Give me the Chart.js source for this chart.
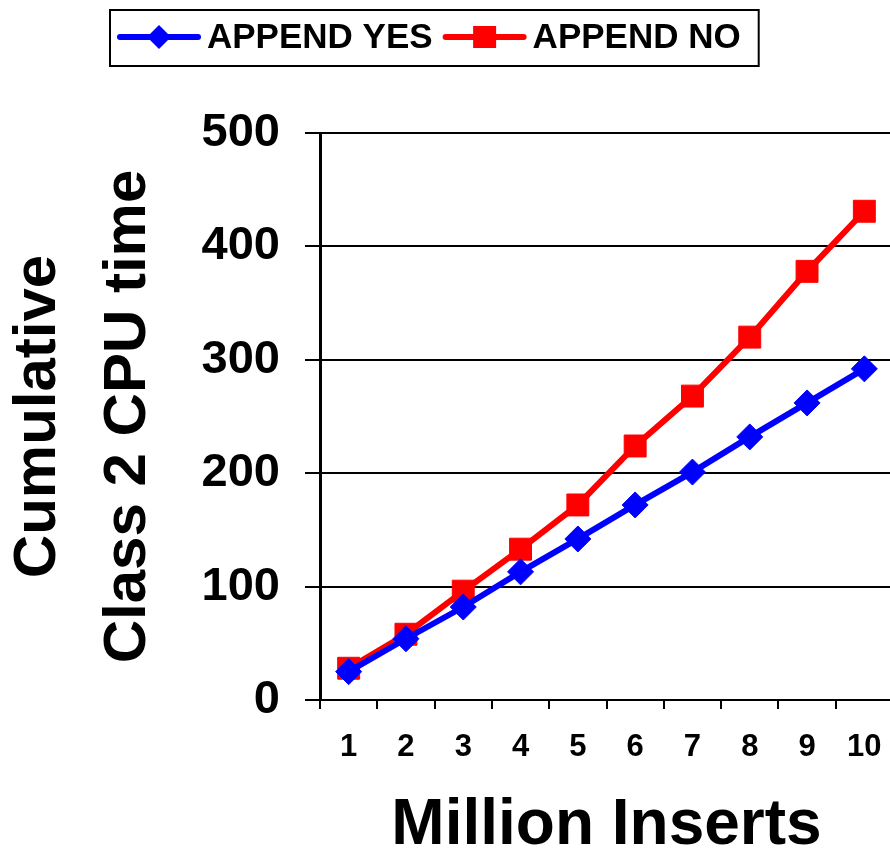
<!DOCTYPE html>
<html>
<head>
<meta charset="utf-8">
<script src="https://cdn.jsdelivr.net/npm/chart.js@4.4.0/dist/chart.umd.min.js"></script>
<style>
  html, body { margin: 0; padding: 0; background: #fff; overflow: hidden; width: 890px; height: 857px; }
  canvas { display: block; }
</style>
</head>
<body>
<canvas id="cpuChart" width="895" height="857"></canvas>
<script>
// million inserts (x categories)
const inserts = ['1', '2', '3', '4', '5', '6', '7', '8', '9', '10'];
// cumulative class 2 CPU time
const appendYes = [25, 54, 82, 113, 142, 172, 201, 232, 262, 292];
const appendNo = [28, 58, 96, 133, 172, 224, 268, 320, 378, 431];
const seriesNames = ['APPEND YES', 'APPEND NO'];

const FONT = '"Liberation Sans", Arial, sans-serif';

// legend in a box, line + marker sample like the original
const boxLegend = {
    id: 'boxLegend',
    afterDraw(chart) {
        const ctx = chart.ctx;
        const y = 37;
        let x = 120;
        ctx.save();
        ctx.font = 'bold 35px ' + FONT;
        ctx.textBaseline = 'middle';
        chart.data.datasets.forEach(ds => {
            ctx.strokeStyle = ds.borderColor;
            ctx.lineWidth = 6;
            ctx.lineCap = 'round';
            ctx.beginPath();
            ctx.moveTo(x, y);
            ctx.lineTo(x + 78, y);
            ctx.stroke();
            ctx.fillStyle = ds.borderColor;
            const cx = x + 39;
            ctx.beginPath();
            if (ds.pointStyle === 'rectRot') {
                ctx.moveTo(cx - 12, y);
                ctx.lineTo(cx, y - 12);
                ctx.lineTo(cx + 12, y);
                ctx.lineTo(cx, y + 12);
                ctx.closePath();
            } else {
                ctx.rect(cx - 11.5, y - 11, 23, 22);
            }
            ctx.fill();
            ctx.fillStyle = '#000';
            ctx.fillText(ds.label, x + 87, y + 1);
            x += 87 + ctx.measureText(ds.label).width + 13;
        });
        ctx.strokeStyle = '#000';
        ctx.lineWidth = 2;
        ctx.strokeRect(110, 10, x - 105, 56);
        ctx.restore();
    }
};

const ctx = document.getElementById('cpuChart').getContext('2d');
const cpuChart = new Chart(ctx, {
    type: 'line',
    data: {
        labels: inserts,
        datasets: [{
            label: seriesNames[0],
            data: appendYes,
            borderColor: '#0000ff',
            backgroundColor: '#0000ff',
            borderWidth: 6,
            pointStyle: 'rectRot',
            pointRadius: 13,
            pointBorderWidth: 1,
            tension: 0
        }, {
            label: seriesNames[1],
            data: appendNo,
            borderColor: '#ff0000',
            backgroundColor: '#ff0000',
            borderWidth: 6,
            pointStyle: 'rect',
            pointRadius: 15.5,
            pointBorderWidth: 1,
            tension: 0
        }]
    },
    options: {
        responsive: false,
        animation: false,
        layout: { autoPadding: false, padding: { top: 133, right: 2, left: 0, bottom: 0 } },
        plugins: {
            legend: { display: false },
            tooltip: { enabled: false }
        },
        scales: {
            x: {
                offset: true,
                grid: { offset: true, drawOnChartArea: false, drawTicks: true, tickLength: 9, color: '#000', lineWidth: 2 },
                border: { color: '#000', width: 2 },
                ticks: { color: '#000', padding: 0, font: { family: FONT, size: 31, weight: 'bold', lineHeight: 2.45 } },
                title: {
                    display: true,
                    text: 'Million Inserts',
                    color: '#000',
                    font: { family: FONT, size: 64, weight: 'bold', lineHeight: 1 },
                    padding: { top: 0, bottom: -1 }
                },
                afterFit: s => { s.height = 157; }
            },
            y: {
                min: 0,
                max: 500,
                ticks: { stepSize: 100, color: '#000', padding: 25, font: { family: FONT, size: 47, weight: 'bold' } },
                grid: { color: '#000', lineWidth: 2, tickLength: 15 },
                border: { color: '#000', width: 3 },
                title: {
                    display: true,
                    text: ['Cumulative', 'Class 2 CPU time'],
                    color: '#000',
                    font: { family: FONT, size: 60, weight: 'bold', lineHeight: 1.5 },
                    padding: { top: -7, bottom: 0 }
                },
                afterFit: s => { s.width = 320; }
            }
        }
    },
    plugins: [boxLegend]
});
</script>
</body>
</html>
